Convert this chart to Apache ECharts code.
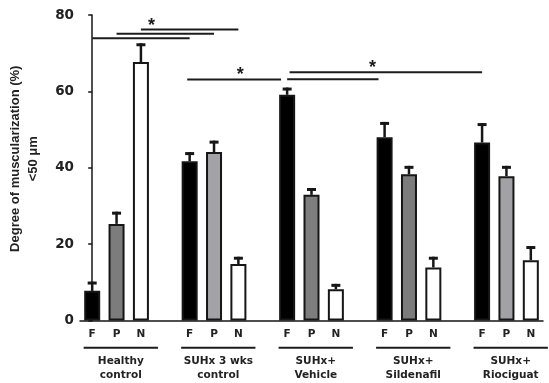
<!DOCTYPE html>
<html>
<head>
<meta charset="utf-8">
<script src="https://cdn.jsdelivr.net/npm/echarts@6/dist/echarts.min.js"></script>
<style>
  html, body { margin: 0; padding: 0; background: #fff; }
  #chart { width: 549px; height: 383px; }
</style>
</head>
<body>
<div id="chart"></div>
<script>
// Treatment groups (two-line captions under the axis)
const groups = [
  ['Healthy', 'control'],
  ['SUHx 3 wks', 'control'],
  ['SUHx+', 'Vehicle'],
  ['SUHx+', 'Sildenafil'],
  ['SUHx+', 'Riociguat']
];
// Vessel muscularization subsets: fully, partially, non-muscularized
const subsets = ['F', 'P', 'N'];

// Mean degree of muscularization (%) and SEM per group
const meanF = [7.8, 41.7, 59.1, 48.0, 46.6];
const semF  = [2.4, 2.4, 1.9, 4.0, 5.1];
const meanP = [25.3, 44.1, 32.9, 38.3, 37.8];
const semP  = [3.2, 3.0, 1.8, 2.2, 2.7];
const meanN = [67.7, 14.8, 8.2, 13.9, 15.8];
const semN  = [4.9, 1.9, 1.4, 2.8, 3.7];

// Y axis
const yTicks = [0, 20, 40, 60, 80];

// Significance bars: [from slot, to slot, level (%)] and stars: [slot, level (%)]
const sigBars = [
  [0, 4, 73.9], [1, 5, 75.1], [2, 6, 76.2],
  [3.9, 7.75, 63.1], [8, 11.75, 63.2], [8.1, 16, 65.0]
];
const sigStars = [[2.43, 77.2], [6.08, 64.2], [11.5, 66.0]];

// ---- build axis slots: F P N + spacer between groups ----
const SLOTS_PER_GROUP = 4;
const categories = [];
groups.forEach((g, gi) => {
  subsets.forEach(s => categories.push(s));
  if (gi < groups.length - 1) categories.push('');
});
const slotOf = (gi, si) => gi * SLOTS_PER_GROUP + si;

const fillF = '#000000';
const fillP = ['#7c7c7c', '#a3a3a7', '#7e7e7e', '#7c7c7c', '#a2a2a6'];
const fillN = '#ffffff';

const barData = categories.map(() => '-');
const errData = [];
const series3 = [[meanF, semF], [meanP, semP], [meanN, semN]];
groups.forEach((g, gi) => {
  series3.forEach(([m, e], si) => {
    const color = si === 0 ? fillF : si === 1 ? fillP[gi] : fillN;
    barData[slotOf(gi, si)] = { value: m[gi], itemStyle: { color } };
    errData.push([slotOf(gi, si), m[gi], m[gi] + e[gi]]);
  });
});
const groupData = groups.map((g, gi) => [gi]);

const INK = '#161616';
const chart = echarts.init(document.getElementById('chart'), null, { renderer: 'canvas' });

chart.setOption({
  animation: false,
  backgroundColor: '#fff',
  grid: { left: 80, right: 6, top: 15, bottom: 62.5, containLabel: false, outerBoundsMode: 'none' },
  xAxis: [
    {
      type: 'category',
      data: categories,
      boundaryGap: true,
      axisLine: { show: true, lineStyle: { color: INK, width: 1.5 } },
      axisTick: { show: false },
      axisLabel: {
        interval: 0, margin: 8, color: '#222',
        fontFamily: 'DejaVu Sans', fontWeight: 'bold', fontSize: 10.5
      },
      splitLine: { show: false }
    },
    {
      type: 'value', min: -0.5, max: categories.length - 0.5, show: false,
      splitLine: { show: false }
    }
  ],
  yAxis: {
    type: 'value', min: 0, max: 80, interval: 20,
    axisLine: { show: true, lineStyle: { color: INK, width: 1.5 } },
    axisTick: { show: true, length: 4, lineStyle: { color: INK, width: 1.5 } },
    axisLabel: {
      margin: 6, color: '#222',
      fontFamily: 'DejaVu Sans', fontWeight: 'bold', fontSize: 13.5,
      formatter: v => (yTicks.includes(v) ? String(v) : '')
    },
    splitLine: { show: false },
    name: 'Degree of muscularization (%)\n<50 μm',
    nameLocation: 'middle',
    nameGap: 38,
    nameRotate: 90,
    nameTextStyle: {
      color: '#222', fontFamily: 'Liberation Sans', fontWeight: 'bold',
      fontSize: 13, lineHeight: 18, align: 'center', padding: [0, 0, 0, 18]
    }
  },
  series: [
    {
      type: 'bar',
      data: barData,
      barWidth: 16,
      itemStyle: { borderColor: INK, borderWidth: 2 },
      z: 2
    },
    {
      // upward SEM whiskers with caps
      type: 'custom',
      data: errData,
      z: 3,
      encode: { x: 0, y: [1, 2] },
      renderItem(params, api) {
        const x = api.value(0);
        const p0 = api.coord([x, api.value(1)]);
        const p1 = api.coord([x, api.value(2)]);
        return {
          type: 'group',
          children: [
            { type: 'line', shape: { x1: p0[0], y1: p0[1], x2: p1[0], y2: p1[1] },
              style: { stroke: INK, lineWidth: 2.5 } },
            { type: 'rect', shape: { x: p1[0] - 4.5, y: p1[1], width: 9, height: 3 },
              style: { fill: INK } }
          ]
        };
      }
    },
    {
      // significance bars
      type: 'custom',
      xAxisIndex: 1,
      data: sigBars,
      encode: { x: [0, 1], y: 2 },
      z: 4,
      renderItem(params, api) {
        const a = api.coord([api.value(0), api.value(2)]);
        const b = api.coord([api.value(1), api.value(2)]);
        return { type: 'line', shape: { x1: a[0], y1: a[1], x2: b[0], y2: b[1] },
                 style: { stroke: '#1c1c1c', lineWidth: 2 } };
      }
    },
    {
      // significance stars
      type: 'custom',
      xAxisIndex: 1,
      data: sigStars,
      encode: { x: 0, y: 1 },
      z: 4,
      renderItem(params, api) {
        const p = api.coord([api.value(0), api.value(1)]);
        return { type: 'text', x: p[0], y: p[1],
                 style: { text: '*', fill: '#1c1c1c', font: 'bold 18px "Liberation Sans"',
                          align: 'center', verticalAlign: 'middle',
                          textAlign: 'center', textVerticalAlign: 'middle' } };
      }
    },
    {
      // group underlines and captions beneath the axis
      type: 'custom',
      xAxisIndex: 1,
      data: groupData,
      encode: { x: 0 },
      clip: false,
      z: 4,
      renderItem(params, api) {
        const gi = api.value(0);
        const x0 = slotOf(gi, 0) - 0.35;
        const x1 = slotOf(gi, 2) + 0.7;
        const a = api.coord([x0, 0]);
        const b = api.coord([x1, 0]);
        const mid = (a[0] + b[0]) / 2;
        return {
          type: 'group',
          children: [
            { type: 'line', shape: { x1: a[0], y1: a[1] + 27.2, x2: b[0], y2: a[1] + 27.2 },
              style: { stroke: '#1c1c1c', lineWidth: 2 } },
            { type: 'text', x: mid, y: a[1] + 34.5,
              style: { text: groups[gi].join('\n'), fill: '#222',
                       font: 'bold 10.5px "DejaVu Sans"', lineHeight: 13.5,
                       align: 'center', verticalAlign: 'top',
                       textAlign: 'center', textVerticalAlign: 'top' } }
          ]
        };
      }
    }
  ]
});
</script>
</body>
</html>
